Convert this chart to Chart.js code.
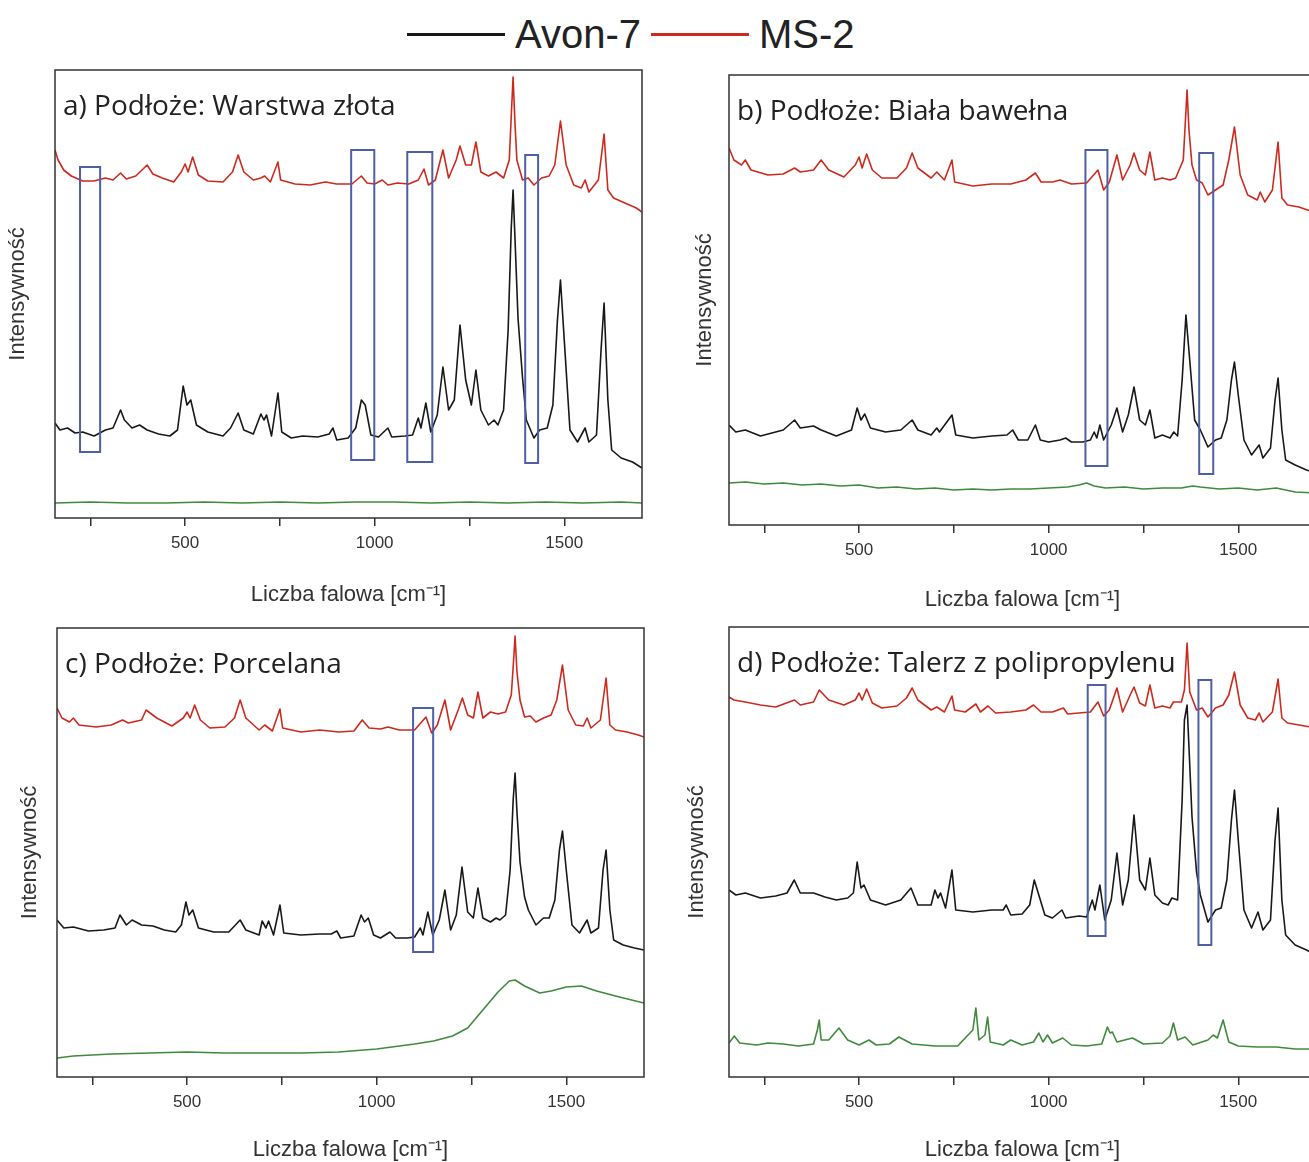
<!DOCTYPE html>
<html>
<head>
<meta charset="utf-8">
<script src="https://cdn.jsdelivr.net/npm/chart.js@4.4.1/dist/chart.umd.min.js"></script>
<style>
  html, body { margin: 0; padding: 0; width: 1309px; height: 1162px; overflow: hidden; background: #fff; }
  canvas { position: absolute; }
  #legend { position: absolute; left: 407px; top: 9px; white-space: nowrap; line-height: 48px;
            font: 40px "Liberation Sans", Arial, sans-serif; color: #222; }
  #legend .ln { display: inline-block; width: 98px; height: 3px; vertical-align: middle; margin-right: 10px; }
  #legend .tx { display: inline-block; vertical-align: middle; margin-right: 10px; }
</style>
</head>
<body>
<div id="legend"></div>
<script>
const seriesNames = ['Avon-7', 'MS-2'];
const panelTitles = [
  'a) Podłoże: Warstwa złota',
  'b) Podłoże: Biała bawełna',
  'c) Podłoże: Porcelana',
  'd) Podłoże: Talerz z polipropylenu'
];
const tickValues = [250, 500, 750, 1000, 1250, 1500];
const tickLabels = [500, 1000, 1500];

// a) gold layer  [wavenumber, intensity]
const aMS2 = [[157,368],[165,358],[180,348],[200,342],[230,337],[260,337],[290,340],[310,338],[330,345],[345,339],[370,342],[400,353],[415,344],[440,340],[470,336],[490,346],[500,354],[508,346],[520,361],[535,343],[560,337],[600,336],[625,346],[640,363],[655,346],[680,338],[700,340],[710,342],[725,336],[745,356],[752,338],[790,334],[830,333],[870,336],[900,334],[940,334],[965,342],[980,335],[1000,334],[1020,338],[1035,333],[1060,335],[1090,334],[1115,338],[1130,349],[1142,333],[1160,338],[1180,368],[1195,340],[1215,358],[1225,372],[1240,353],[1255,353],[1267,376],[1280,346],[1300,342],[1320,346],[1340,340],[1355,358],[1360,400],[1365,441],[1370,395],[1375,358],[1390,338],[1405,340],[1420,333],[1440,340],[1460,342],[1475,353],[1490,397],[1505,353],[1525,333],[1545,330],[1555,338],[1565,326],[1590,338],[1605,384],[1615,328],[1630,320],[1660,315],[1690,310],[1705,306]];
const aAvon = [[157,95],[170,88],[190,90],[210,85],[230,86],[260,82],[290,88],[310,90],[330,108],[340,98],[360,90],[380,93],[400,88],[430,84],[460,82],[480,88],[495,132],[505,113],[515,118],[530,93],[560,86],[600,82],[620,90],[640,105],[655,88],[680,84],[700,104],[708,98],[715,103],[728,82],[745,125],[755,86],[780,80],[810,82],[850,81],[880,84],[890,90],[900,78],[930,80],[950,90],[965,118],[975,113],[990,83],[1010,81],[1035,90],[1045,81],[1080,82],[1100,83],[1115,100],[1122,90],[1135,115],[1148,86],[1165,103],[1180,151],[1195,108],[1210,118],[1225,193],[1240,138],[1255,113],[1267,148],[1280,108],[1300,93],[1315,98],[1325,93],[1340,108],[1352,188],[1360,288],[1365,328],[1370,280],[1378,200],[1390,140],[1400,98],[1420,80],[1435,88],[1455,90],[1470,113],[1482,198],[1490,238],[1500,178],[1515,88],[1535,76],[1555,90],[1565,76],[1585,83],[1597,168],[1605,215],[1615,118],[1625,68],[1650,60],[1680,56],[1705,50]];
const aSub = [[157,15],[250,16],[350,15],[450,15],[550,16],[650,15],[750,16],[850,15],[950,16],[1050,16],[1150,15],[1250,16],[1350,15],[1450,16],[1550,15],[1650,16],[1705,15]];
const aBoxes = [[223,276,66,351],[938,999,58,368],[1086,1152,56,366],[1397,1431,55,363]];

// b) white cotton
const bMS2 = [[157,377],[170,365],[190,360],[200,365],[215,355],[260,350],[300,351],[330,357],[345,353],[380,355],[400,365],[420,355],[460,348],[490,360],[500,368],[508,357],[520,371],[535,355],[560,347],[600,347],[625,357],[640,372],[655,357],[690,347],[705,353],[725,345],[745,365],[752,343],[800,339],[850,341],[900,341],[940,345],[965,352],[980,343],[1010,343],[1030,345],[1060,341],[1100,342],[1130,355],[1145,335],[1160,343],[1180,370],[1195,345],[1215,360],[1225,372],[1240,355],[1255,350],[1267,373],[1280,345],[1300,347],[1320,345],[1335,347],[1355,365],[1360,400],[1365,435],[1370,395],[1378,360],[1390,345],[1405,342],[1420,330],[1440,335],[1460,340],[1475,365],[1490,398],[1505,350],[1525,330],[1550,325],[1558,333],[1570,323],[1590,335],[1605,383],[1615,327],[1630,320],[1660,318],[1690,314],[1705,312]];
const bAvon = [[157,100],[175,93],[200,95],[240,89],[280,93],[300,95],[330,105],[345,97],[380,99],[400,95],[440,89],[480,95],[495,117],[505,105],[515,111],[530,97],[570,93],[610,95],[640,105],[655,95],[690,90],[705,97],[712,93],[745,110],[755,90],[800,87],[850,89],[890,90],[905,95],[920,85],[945,85],[965,100],[978,85],[1000,83],[1030,85],[1045,87],[1060,83],[1090,83],[1110,85],[1120,93],[1127,87],[1135,100],[1145,85],[1165,100],[1180,117],[1195,93],[1210,110],[1225,138],[1240,105],[1255,100],[1267,115],[1280,87],[1300,90],[1320,87],[1330,93],[1340,89],[1352,145],[1362,210],[1372,165],[1385,105],[1400,95],[1420,78],[1440,85],[1455,87],[1470,105],[1482,145],[1490,163],[1500,130],[1515,85],[1535,70],[1555,80],[1565,67],[1585,77],[1597,125],[1605,147],[1615,95],[1625,65],[1650,60],[1680,55],[1705,52]];
const bSub = [[157,42],[200,43],[250,41],[300,42],[350,40],[400,41],[450,39],[500,40],[550,37],[600,38],[650,36],[700,37],[750,35],[800,36],[850,35],[900,36],[950,36],[1000,37],[1050,38],[1080,40],[1100,42],[1120,39],[1150,37],[1200,38],[1250,36],[1300,37],[1350,37],[1380,39],[1400,38],[1450,36],[1500,37],[1550,35],[1600,37],[1650,33],[1705,32]];
const bBoxes = [[1097,1155,59,375],[1397,1434,51,372]];

// c) porcelain
const cMS2 = [[157,369],[170,359],[190,355],[200,359],[215,352],[260,350],[300,352],[330,357],[345,354],[380,357],[392,367],[420,359],[460,351],[490,359],[500,365],[508,359],[520,372],[535,357],[560,349],[600,350],[625,359],[640,377],[655,359],[690,347],[705,352],[725,346],[745,368],[752,349],[800,345],[850,347],[900,345],[940,346],[962,357],[980,349],[1010,348],[1030,350],[1060,347],[1100,347],[1130,360],[1145,344],[1160,352],[1180,377],[1195,347],[1215,367],[1226,379],[1240,362],[1255,359],[1267,385],[1280,359],[1300,365],[1320,363],[1340,365],[1355,382],[1360,410],[1365,441],[1370,405],[1378,377],[1390,360],[1405,361],[1420,355],[1440,359],[1460,362],[1475,377],[1490,412],[1505,367],[1525,352],[1545,351],[1555,359],[1565,349],[1590,357],[1605,399],[1615,352],[1630,347],[1660,345],[1690,342],[1705,340]];
const cAvon = [[157,157],[175,149],[200,150],[240,146],[280,147],[310,149],[323,162],[340,152],[355,157],[380,152],[410,151],[440,147],[470,145],[485,152],[497,175],[505,162],[515,167],[530,149],[570,145],[610,145],[640,157],[655,147],[690,142],[698,156],[708,149],[715,156],[728,142],[745,172],[755,144],[800,142],[850,143],[880,143],[895,146],[905,139],[940,141],[959,162],[968,155],[978,159],[992,142],[1010,139],[1035,145],[1050,139],[1080,139],[1100,140],[1115,149],[1122,142],[1135,165],[1148,142],[1165,157],[1180,187],[1195,147],[1210,162],[1225,210],[1240,165],[1255,159],[1267,189],[1280,159],[1300,155],[1315,159],[1325,157],[1340,162],[1352,207],[1360,277],[1365,304],[1370,265],[1378,215],[1390,180],[1400,167],[1420,152],[1440,159],[1455,159],[1470,177],[1482,227],[1490,246],[1500,207],[1515,152],[1535,144],[1555,157],[1565,144],[1585,149],[1597,207],[1605,227],[1615,167],[1625,137],[1650,132],[1680,129],[1705,127]];
const cSub = [[157,19],[200,21],[300,23],[400,24],[500,25],[600,24],[700,24],[800,24],[900,25],[1000,28],[1100,33],[1150,36],[1200,41],[1240,49],[1280,67],[1320,85],[1350,96],[1365,97],[1390,91],[1430,84],[1460,86],[1500,90],[1540,91],[1580,86],[1640,80],[1705,74]];
const cBoxes = [[1096,1149,125,369]];

// d) polypropylene plate
const dMS2 = [[157,380],[170,377],[200,375],[240,372],[280,370],[330,377],[345,372],[380,375],[395,387],[420,377],[460,372],[490,377],[500,384],[508,377],[520,388],[535,374],[560,369],[600,371],[625,379],[640,389],[655,377],[690,367],[705,370],[725,365],[745,381],[752,367],[780,365],[808,373],[820,365],[840,371],[860,364],[900,365],[940,367],[960,372],[980,365],[1010,365],[1039,369],[1050,363],[1080,364],[1110,365],[1130,375],[1145,361],[1160,367],[1180,389],[1195,365],[1215,382],[1225,390],[1240,374],[1255,371],[1267,392],[1280,369],[1300,371],[1320,369],[1329,375],[1350,375],[1358,387],[1365,434],[1372,385],[1390,367],[1405,369],[1420,360],[1440,369],[1460,372],[1475,382],[1490,405],[1505,372],[1525,359],[1545,357],[1555,364],[1565,355],[1590,365],[1605,398],[1615,359],[1630,354],[1660,352],[1690,350],[1705,349]];
const dAvon = [[157,187],[175,182],[200,184],[240,179],[280,181],[310,184],[329,197],[345,184],[380,184],[410,180],[440,177],[470,179],[485,184],[495,215],[505,189],[513,192],[530,177],[570,172],[610,177],[637,189],[655,172],[690,172],[700,187],[708,179],[715,184],[728,169],[745,207],[755,167],[800,165],[850,167],[880,167],[888,172],[900,162],[930,163],[950,172],[962,197],[978,177],[990,162],[1010,159],[1035,167],[1045,159],[1080,161],[1100,160],[1115,177],[1122,167],[1135,192],[1148,157],[1165,177],[1180,224],[1195,172],[1210,197],[1225,262],[1240,197],[1255,187],[1267,219],[1280,182],[1300,174],[1315,172],[1325,179],[1340,177],[1352,277],[1358,357],[1365,372],[1370,330],[1378,260],[1390,205],[1400,182],[1420,155],[1440,167],[1455,169],[1470,197],[1482,257],[1490,287],[1500,237],[1515,167],[1535,149],[1552,165],[1565,147],[1585,157],[1597,237],[1605,269],[1615,177],[1625,142],[1650,132],[1680,127],[1705,122]];
const dSub = [[157,34],[171,41],[185,34],[230,32],[260,34],[300,33],[340,31],[380,33],[390,47],[395,57],[400,37],[420,37],[447,49],[470,37],[500,32],[526,37],[545,32],[580,33],[605,40],[640,33],[700,31],[760,31],[800,47],[808,69],[816,37],[832,42],[839,60],[846,35],[880,32],[900,37],[930,32],[960,35],[974,44],[985,35],[997,42],[1010,34],[1037,39],[1060,32],[1100,31],[1140,33],[1155,50],[1162,44],[1168,45],[1180,35],[1221,39],[1250,33],[1300,34],[1320,41],[1329,54],[1340,37],[1360,40],[1380,32],[1420,37],[1434,42],[1445,39],[1460,57],[1475,35],[1500,31],[1550,30],[1600,30],[1650,28],[1705,28]];
const dBoxes = [[1103,1150,141,392],[1395,1429,132,397]];

const RED = '#cc2a1e', BLACK = '#181818', GREEN = '#3f8a3c', BOX = '#4f5fa6';
const AXIS_FONT = '"Liberation Sans", Arial, sans-serif';

const panels = [
  {left: 55, top: 70, w: 587, h: 448, gapY: 37, gapX: 77, title: panelTitles[0], avon: aAvon, ms2: aMS2, sub: aSub, boxes: aBoxes},
  {left: 729, top: 75, w: 587, h: 450, gapY: 24, gapX: 75, title: panelTitles[1], avon: bAvon, ms2: bMS2, sub: bSub, boxes: bBoxes},
  {left: 57, top: 628, w: 587, h: 449, gapY: 27, gapX: 73, title: panelTitles[2], avon: cAvon, ms2: cMS2, sub: cSub, boxes: cBoxes},
  {left: 729, top: 627, w: 587, h: 450, gapY: 32, gapX: 73, title: panelTitles[3], avon: dAvon, ms2: dMS2, sub: dSub, boxes: dBoxes}
];

// shared legend
const legend = document.getElementById('legend');
[[seriesNames[0], BLACK], [seriesNames[1], RED]].forEach(([name, col]) => {
  const ln = document.createElement('span');
  ln.className = 'ln';
  ln.style.background = col;
  const tx = document.createElement('span');
  tx.className = 'tx';
  tx.textContent = name;
  legend.appendChild(ln);
  legend.appendChild(tx);
});

function toXY(pts) {
  return pts.map(([x, y]) => ({x, y}));
}

function framePlugin(p) {
  return {
    id: 'frame',
    afterDatasetsDraw(chart) {
      const {ctx, chartArea: a, scales: {x, y}} = chart;
      ctx.save();
      // highlighted bands
      ctx.strokeStyle = BOX;
      ctx.lineWidth = 2;
      p.boxes.forEach(([x0, x1, y0, y1]) => {
        const px0 = x.getPixelForValue(x0), px1 = x.getPixelForValue(x1);
        const py0 = y.getPixelForValue(y0), py1 = y.getPixelForValue(y1);
        ctx.strokeRect(px0, py1, px1 - px0, py0 - py1);
      });
      // plot frame
      ctx.strokeStyle = '#333';
      ctx.lineWidth = 1.5;
      ctx.strokeRect(a.left, a.top, a.width, a.height);
      // panel label
      ctx.fillStyle = '#222';
      ctx.font = '28px "Open Sans", "Noto Sans", sans-serif';
      ctx.textBaseline = 'alphabetic';
      ctx.fillText(p.title, a.left + 8, a.top + 45);
      ctx.restore();
    }
  };
}

function addPanel(p) {
  const cv = document.createElement('canvas');
  cv.width = p.w + 80;
  cv.height = p.h + 120;
  cv.style.left = (p.left - 60) + 'px';
  cv.style.top = (p.top - 10) + 'px';
  document.body.appendChild(cv);

  new Chart(cv, {
    type: 'line',
    data: {
      datasets: [
        {label: seriesNames[1], data: toXY(p.ms2), borderColor: RED},
        {label: seriesNames[0], data: toXY(p.avon), borderColor: BLACK},
        {label: 'Podłoże', data: toXY(p.sub), borderColor: GREEN}
      ]
    },
    options: {
      responsive: false,
      animation: false,
      elements: {
        point: {radius: 0},
        line: {borderWidth: 1.6, tension: 0, borderJoinStyle: 'round'}
      },
      layout: {padding: {top: 10, right: 20, left: 0, bottom: 0}},
      plugins: {
        legend: {display: false},
        tooltip: {enabled: false}
      },
      scales: {
        x: {
          type: 'linear',
          min: 157,
          max: 1705,
          afterBuildTicks: s => { s.ticks = tickValues.map(value => ({value})); },
          afterFit: s => { s.height = 110; },
          border: {display: false},
          grid: {drawOnChartArea: false, drawTicks: true, tickLength: 8, color: '#333', lineWidth: 1.5},
          ticks: {
            autoSkip: false,
            maxRotation: 0,
            padding: 7,
            color: '#333',
            font: {family: AXIS_FONT, size: 17},
            callback: v => tickLabels.includes(v) ? String(v) : ''
          },
          title: {
            display: true,
            text: 'Liczba falowa [cm⁻¹]',
            color: '#333',
            font: {family: AXIS_FONT, size: 22},
            padding: {top: 0, bottom: 110 - p.gapX - 13.2}
          }
        },
        y: {
          min: 0,
          max: p.h,
          afterFit: s => { s.width = 60; },
          border: {display: false},
          grid: {display: false},
          ticks: {display: false},
          title: {
            display: true,
            text: 'Intensywność',
            color: '#333',
            font: {family: AXIS_FONT, size: 22},
            padding: {top: 60 - p.gapY - 13.2, bottom: 0}
          }
        }
      }
    },
    plugins: [framePlugin(p)]
  });
}

panels.forEach(addPanel);
</script>
</body>
</html>
